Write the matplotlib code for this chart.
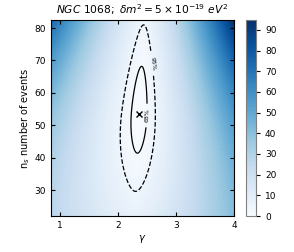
import numpy as np
import matplotlib
matplotlib.use("Agg")
import matplotlib.pyplot as plt

# ---- data ----
gamma_range = [0.85, 4.0]
ns_range = [22.0, 82.5]
best_fit = (2.37, 53.5)          # (gamma, n_s)
valley_slope = 0.0027            # shift of the gamma valley per event
gamma_core = [0.1, 1.3]          # core width, asymptotic power
gamma_scale = [1.34, 0.0182]     # amplitude, growth per event
side_asym = [0.15, 0.5]          # left/right asymmetry, its width in gamma
ns_coef = [0.01425, 0.0066]      # below / above best fit
ns_power = [1.807, 1.963]
cl_levels = [1.29, 4.41]
cl_labels = ["68%", "95%"]
cl_styles = ["solid", "dashed"]
label_pos = [(2.52, 53.0), (2.62, 69.0)]
cbar_ticks = [0, 10, 20, 30, 40, 50, 60, 70, 80, 90]
x_ticks = [1, 2, 3, 4]
y_ticks = [30, 40, 50, 60, 70, 80]

# ---- surface ----
g = np.linspace(gamma_range[0], gamma_range[1], 400)
n = np.linspace(ns_range[0], ns_range[1], 400)
G, N = np.meshgrid(g, n)
dn = N - best_fit[1]
u = G - (best_fit[0] + valley_slope * dn)
f_u = (1 + (u / gamma_core[0]) ** 2) ** (gamma_core[1] / 2) - 1
s = gamma_scale[0] * np.exp(gamma_scale[1] * dn) * (1 + side_asym[0] * np.tanh(u / side_asym[1]))
T_n = np.where(dn < 0, ns_coef[0] * np.abs(dn) ** ns_power[0], ns_coef[1] * np.abs(dn) ** ns_power[1])
T = s * f_u + T_n

fig = plt.figure(figsize=(2.94, 2.52), dpi=100)
ax = fig.add_axes([51 / 294, 36 / 252, 183 / 294, 196 / 252])
cax = fig.add_axes([246 / 294, 36 / 252, 10 / 294, 196 / 252])

cf = ax.contourf(G, N, T, levels=np.linspace(0, T.max(), 150), cmap="Blues")
cs = ax.contour(G, N, T, levels=cl_levels, colors="k", linestyles=cl_styles, linewidths=0.9)
ax.clabel(cs, fmt=dict(zip(cl_levels, cl_labels)), manual=label_pos, fontsize=4.5, inline=True)
ax.plot(best_fit[0], best_fit[1], marker="x", color="k", ms=5, mew=1.0, ls="none")

ax.set_xlim(gamma_range)
ax.set_ylim(ns_range)
ax.set_xticks(x_ticks)
ax.set_yticks(y_ticks)
ax.tick_params(direction="in", top=True, right=True, labelsize=6.5, length=3)
ax.set_xlabel(r"$\gamma$", fontsize=7, labelpad=2)
ax.set_ylabel(r"n$_s$ number of events", fontsize=7, labelpad=2)
ax.set_title(r"$NGC\ 1068;\ \delta m^2 = 5\times10^{-19}\ eV^2$", fontsize=7.7, pad=4)

cb = fig.colorbar(cf, cax=cax)
cb.set_ticks(cbar_ticks)
cb.ax.tick_params(labelsize=6.5, length=3)
cb.outline.set_edgecolor("0.5")

fig.savefig("out.png", dpi=100)
